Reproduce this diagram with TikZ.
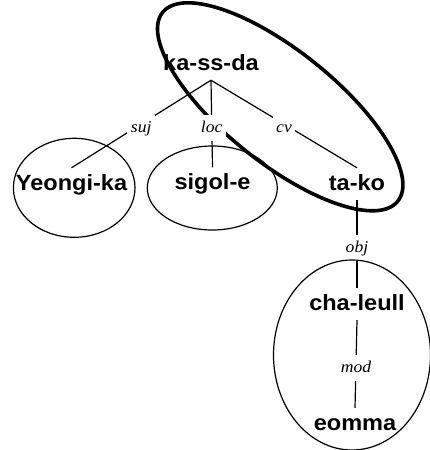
\documentclass[tikz,border=0pt]{standalone}
\usepackage{fontspec}
\newfontfamily\nodefont{Liberation Sans}[FakeStretch=1.07]
\newfontfamily\labfont{Liberation Serif}[FakeStretch=1.07]
\begin{document}
\begin{tikzpicture}[x=1pt,y=-1pt,
  word/.style={font=\nodefont\bfseries\fontsize{22}{26}\selectfont, text height=16pt, text depth=4pt, inner sep=6pt},
  rel/.style={font=\labfont\itshape\fontsize{16.5}{19}\selectfont, fill=white, text height=12pt, text depth=3pt, inner xsep=3.5pt, inner ysep=5.5pt, yshift=-4pt},
  edgeline/.style={line width=1.2pt},
  grp/.style={line width=1.2pt},
  biggrp/.style={line width=3.6pt}]
\useasboundingbox (0,0) rectangle (430,450);
% group outlines
\draw[grp] (74.2,187.8) ellipse [x radius=60.8pt, y radius=49.5pt];
\draw[grp] (212.3,188) ellipse [x radius=65pt, y radius=42pt];
\coordinate (bigc) at (280.2,106.8);
\draw[biggrp, rotate around={-38.76:(bigc)}] (bigc) ellipse [x radius=150.8pt, y radius=55.9pt];
% words
\node[word] (kassda) at (211,64) {ka-ss-da};
\node[word] (yeongi) at (71.5,184) {Yeongi-ka};
\node[word] (sigol) at (212.5,183.5) {sigol-e};
\node[word] (tako) at (357,184) {ta-ko};
\node[word] (chaleull) at (357,304) {cha-leull};
\node[word] (eomma) at (355,424) {eomma};
% dependencies
\draw[edgeline] (kassda.south) -- node[rel] {suj} (yeongi.north);
\draw[edgeline] (kassda.south) -- node[rel] {loc} (sigol.north);
\draw[edgeline] (kassda.south) -- node[rel] {cv} (tako.north);
\draw[edgeline] (tako.south) -- node[rel] {obj} (chaleull.north);
\draw[edgeline] (chaleull.south) -- node[rel] {mod} (eomma.north);
% lower group
\draw[grp] (352,355) ellipse [x radius=78.5pt, y radius=95pt];
\end{tikzpicture}
\end{document}
